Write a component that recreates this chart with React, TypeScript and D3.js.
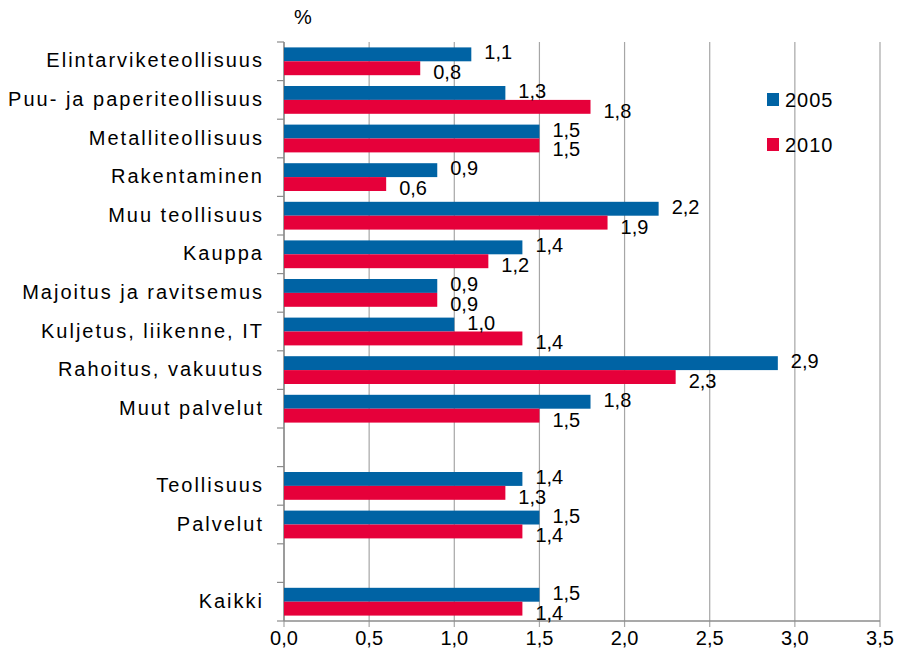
import React from "react";
import * as d3 from "d3";

const categories: string[] = [
  "Elintarviketeollisuus",
  "Puu- ja paperiteollisuus",
  "Metalliteollisuus",
  "Rakentaminen",
  "Muu teollisuus",
  "Kauppa",
  "Majoitus ja ravitsemus",
  "Kuljetus, liikenne, IT",
  "Rahoitus, vakuutus",
  "Muut palvelut",
  "",
  "Teollisuus",
  "Palvelut",
  "",
  "Kaikki",
];
const values2005: (number | null)[] = [1.1, 1.3, 1.5, 0.9, 2.2, 1.4, 0.9, 1.0, 2.9, 1.8, null, 1.4, 1.5, null, 1.5];
const values2010: (number | null)[] = [0.8, 1.8, 1.5, 0.6, 1.9, 1.2, 0.9, 1.4, 2.3, 1.5, null, 1.3, 1.4, null, 1.4];
const seriesNames = ["2005", "2010"];
const xTicks = [0, 0.5, 1, 1.5, 2, 2.5, 3, 3.5];

const COLORS = ["#0063A4", "#E6003A"];
const FONT = "'Liberation Sans', Arial, sans-serif";

export default function App() {
  const W = 900, H = 664;
  const left = 284, right = 880, top = 42, bottom = 621;
  const x = d3.scaleLinear().domain([0, 3.5]).range([left, right]);
  const keys = categories.map((_, i) => String(i));
  const y = d3.scaleBand().domain(keys).range([top, bottom]).paddingInner(0).paddingOuter(0);
  const bw = y.bandwidth();
  const barH = bw * 0.36;
  const fmt = (v: number) => d3.format(".1f")(v).replace(".", ",");
  const series = [values2005, values2010];

  return (
    <svg width={W} height={H} style={{ position: "absolute", left: 0, top: 0, background: "#fff" }} fontFamily={FONT}>
      <rect x={0} y={0} width={W} height={H} fill="#fff" />
      {/* gridlines */}
      {xTicks.map((t) => (
        <line key={"g" + t} x1={x(t)} x2={x(t)} y1={top} y2={bottom + 6} stroke="#A6A6A6" strokeWidth={1.2} />
      ))}
      {/* y axis */}
      <line x1={left} x2={left} y1={top} y2={bottom} stroke="#8C8C8C" strokeWidth={1.5} />
      {d3.range(keys.length + 1).map((i) => {
        const yy = top + i * bw;
        return <line key={"yt" + i} x1={left - 7} x2={left} y1={yy} y2={yy} stroke="#8C8C8C" strokeWidth={1.2} />;
      })}
      {/* bars */}
      {series.map((vals, s) =>
        vals.map((v, i) => {
          if (v == null) return null;
          const c = (y(keys[i]) as number) + bw / 2;
          const y0 = s === 0 ? c - barH : c;
          return (
            <rect key={"b" + s + "-" + i} x={x(0)} y={y0} width={x(v) - x(0)} height={barH} fill={COLORS[s]} />
          );
        })
      )}
      {/* x axis */}
      <line x1={left} x2={right} y1={bottom} y2={bottom} stroke="#8C8C8C" strokeWidth={1.5} />
      {xTicks.map((t) => (
        <text key={"xl" + t} x={x(t)} y={bottom + 24} textAnchor="middle" fontSize={20} fill="#000">
          {fmt(t)}
        </text>
      ))}
      {/* value labels */}
      {series.map((vals, s) =>
        vals.map((v, i) => {
          if (v == null) return null;
          const c = (y(keys[i]) as number) + bw / 2;
          const base = s === 0 ? c - barH / 2 + 5 : c + barH / 2 + 11;
          return (
            <text key={"vl" + s + "-" + i} x={x(v) + 13} y={base} fontSize={20} fill="#000">
              {fmt(v)}
            </text>
          );
        })
      )}
      {/* category labels */}
      {categories.map((c, i) =>
        c ? (
          <text key={"cl" + i} x={264} y={(y(keys[i]) as number) + bw / 2 + 6} textAnchor="end" fontSize={20} letterSpacing={2} fill="#000">
            {c}
          </text>
        ) : null
      )}
      {/* unit */}
      <text x={294} y={24} fontSize={20} fill="#000">%</text>
      {/* legend */}
      {seriesNames.map((n, i) => (
        <g key={"lg" + i} transform={`translate(767, ${93 + i * 45})`}>
          <rect x={0} y={0} width={12} height={13} fill={COLORS[i]} />
          <text x={18} y={14} fontSize={20} letterSpacing={1} fill="#000">{n}</text>
        </g>
      ))}
    </svg>
  );
}
